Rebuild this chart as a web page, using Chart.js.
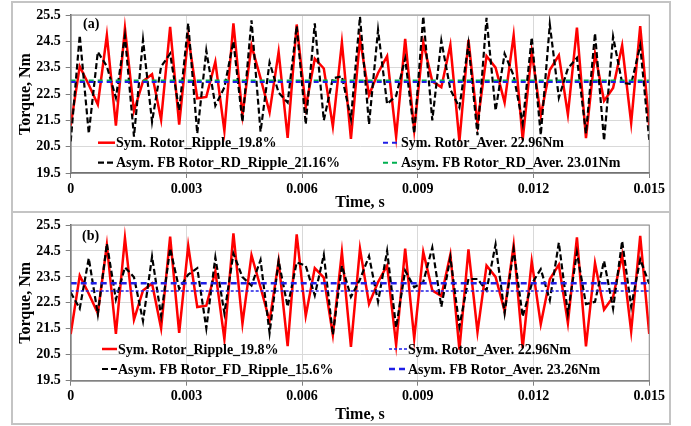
<!DOCTYPE html>
<html>
<head>
<meta charset="utf-8">
<script src="https://cdn.jsdelivr.net/npm/chart.js@4.4.1/dist/chart.umd.min.js"></script>
<style>
  body { margin: 0; background: #fff; }
  .panel { position: absolute; left: 11px; border: 2px solid #c4c4c4; background: #fff; }
  canvas { display: block; }
</style>
</head>
<body>
<div class="panel" style="top:1px;"><canvas id="chartA" width="656" height="208"></canvas></div>
<div class="panel" style="top:211px;"><canvas id="chartB" width="656" height="210"></canvas></div>
<script>
// sampling step of the torque waveforms (65 samples over 0.015 s)
const tStep = 0.015 / 64;
const xTicks = [0, 0.003, 0.006, 0.009, 0.012, 0.015];
const yTicks = [19.5, 20.5, 21.5, 22.5, 23.5, 24.5, 25.5];

// Sym. rotor torque (same in both panels)
const symRotor = [21.3, 23.55, 22.85, 22.1, 24.73, 21.3, 25.0, 21.85, 22.98, 23.25,
  21.52, 25.05, 21.34, 24.7, 22.34, 22.39, 23.72, 21.1, 25.18, 21.7,
  24.34, 23.1, 21.8, 24.1, 20.83, 25.14, 22.0, 23.84, 23.47, 21.27,
  24.46, 20.8, 24.59, 22.46, 23.3, 23.94, 20.88, 24.59, 21.13, 24.46,
  22.98, 22.76, 24.36, 20.7, 24.56, 21.38, 23.94, 23.5, 22.18, 24.73,
  20.76, 24.1, 21.68, 23.41, 23.97, 21.72, 25.02, 20.82, 24.03, 22.24,
  22.73, 24.34, 21.4, 25.08, 21.3];

// Asym. FB rotor, RD (panel a)
const asymRD = [20.7, 24.73, 21.0, 24.1, 23.55, 22.36, 24.7, 20.88, 24.56, 21.44,
  23.54, 24.03, 21.87, 25.18, 21.0, 24.15, 22.06, 22.75, 24.5, 21.44,
  25.3, 21.07, 23.7, 22.55, 22.18, 25.08, 21.35, 25.18, 21.5, 23.1,
  23.17, 21.56, 25.43, 21.35, 24.93, 22.12, 22.43, 23.85, 21.0, 25.45,
  21.5, 24.52, 22.67, 21.99, 24.4, 20.94, 25.39, 21.87, 24.03, 23.2,
  21.38, 24.65, 20.94, 25.14, 22.36, 23.47, 23.87, 21.0, 24.81, 20.73,
  24.68, 22.92, 22.88, 24.34, 20.76];

// Asym. FB rotor, FD (panel b)
const asymFD = [22.9, 22.28, 24.22, 22.06, 24.78, 22.63, 23.87, 23.49, 21.8, 24.28,
  22.0, 24.6, 23.04, 23.59, 23.84, 21.52, 24.25, 22.1, 24.4, 23.49,
  23.17, 24.15, 21.34, 24.12, 22.35, 24.06, 23.93, 22.79, 24.35, 21.27,
  23.93, 22.73, 23.4, 24.3, 22.54, 24.5, 21.55, 23.74, 23.1, 23.3,
  24.63, 22.35, 24.25, 21.59, 23.42, 23.42, 22.98, 24.75, 22.1, 24.56,
  21.97, 23.23, 23.8, 22.6, 24.82, 22.1, 24.44, 22.45, 22.54, 24.12,
  22.28, 24.88, 22.35, 24.18, 23.23];

const symAverage = 22.96;
const rdAverage = 23.01;
const fdAverage = 23.26;

const serif = '"Liberation Serif", "Times New Roman", serif';

function toPoints(values) {
  return values.map((v, i) => ({ x: i * tStep, y: v }));
}
function flatLine(value) {
  return [{ x: xTicks[0], y: value }, { x: xTicks[xTicks.length - 1], y: value }];
}

const panelDecor = {
  id: 'panelDecor',
  afterDraw(chart, args, opts) {
    const ctx = chart.ctx;
    const a = chart.chartArea;
    ctx.save();
    ctx.strokeStyle = '#8c8c8c';
    ctx.lineWidth = 1;
    ctx.strokeRect(a.left, a.top, a.right - a.left, a.bottom - a.top);
    ctx.fillStyle = '#000';
    ctx.textBaseline = 'middle';
    ctx.font = 'bold 14px ' + serif;
    ctx.fillText(opts.letter, opts.letterX, opts.letterY);
    opts.legend.forEach(item => {
      const ds = chart.data.datasets[item.index];
      ctx.beginPath();
      ctx.strokeStyle = ds.borderColor;
      ctx.lineWidth = ds.borderWidth;
      ctx.setLineDash(ds.borderDash || []);
      ctx.moveTo(item.x, item.y);
      ctx.lineTo(item.x + item.len, item.y);
      ctx.stroke();
      ctx.setLineDash([]);
      ctx.fillText(ds.label, item.x + item.len + 1, item.y + 1);
    });
    ctx.restore();
  }
};

function createTorqueChart(ctx, datasets, layout) {
  new Chart(ctx, {
    type: 'line',
    data: { datasets: datasets },
    options: {
      responsive: false,
      animation: false,
      elements: { point: { radius: 0 }, line: { tension: 0 } },
      layout: { padding: { left: 0, right: 18.5, top: layout.top, bottom: 0 } },
      plugins: {
        legend: { display: false },
        tooltip: { enabled: false },
        panelDecor: layout.decor
      },
      scales: {
        x: {
          type: 'linear',
          min: xTicks[0],
          max: xTicks[xTicks.length - 1],
          afterFit: s => { s.height = layout.xHeight; },
          afterBuildTicks: s => { s.ticks = xTicks.map(v => ({ value: v })); },
          ticks: {
            color: '#000',
            padding: 4,
            font: { family: serif, size: 14, weight: 'bold', lineHeight: 1 },
            callback: v => (v === 0 ? '0' : Number(v).toFixed(3))
          },
          grid: { color: '#d9d9d9', tickLength: 5, tickColor: '#7f7f7f' },
          border: { color: '#595959', width: 1.5 },
          title: {
            display: true,
            text: 'Time, s',
            color: '#000',
            padding: { top: 0, bottom: 0 },
            font: { family: serif, size: 16, weight: 'bold', lineHeight: 1 }
          }
        },
        y: {
          min: yTicks[0],
          max: yTicks[yTicks.length - 1],
          afterFit: s => { s.width = 57.7; },
          afterBuildTicks: s => { s.ticks = yTicks.map(v => ({ value: v })); },
          ticks: {
            color: '#000',
            padding: 5,
            font: { family: serif, size: 14, weight: 'bold', lineHeight: 1 },
            callback: v => Number(v).toFixed(1)
          },
          grid: { color: '#d9d9d9', tickLength: 5, tickColor: '#7f7f7f' },
          border: { color: '#595959', width: 1.5 },
          title: {
            display: true,
            text: 'Torque, Nm',
            color: '#000',
            padding: { top: 5, bottom: 0 },
            font: { family: serif, size: 16, weight: 'bold', lineHeight: 1 }
          }
        }
      }
    },
    plugins: [panelDecor]
  });
}

createTorqueChart(document.getElementById('chartA'), [
  { label: 'Sym. Rotor_Aver. 22.96Nm', data: flatLine(symAverage), borderColor: '#1f1fe6', borderWidth: 2, borderDash: [5, 4] },
  { label: 'Asym. FB Rotor_RD_Aver. 23.01Nm', data: flatLine(rdAverage), borderColor: '#00b050', borderWidth: 2, borderDash: [5, 4] },
  { label: 'Asym. FB Rotor_RD_Ripple_21.16%', data: toPoints(asymRD), borderColor: '#000', borderWidth: 2.2, borderDash: [6, 3] },
  { label: 'Sym. Rotor_Ripple_19.8%', data: toPoints(symRotor), borderColor: '#ff0000', borderWidth: 2.5 }
], {
  top: 7,
  xHeight: 38,
  decor: {
    letter: '(a)', letterX: 70, letterY: 21,
    legend: [
      { index: 3, x: 85, y: 139.7, len: 17 },
      { index: 2, x: 85, y: 159.7, len: 17 },
      { index: 0, x: 370, y: 139.7, len: 17 },
      { index: 1, x: 370, y: 159.7, len: 17 }
    ]
  }
});

createTorqueChart(document.getElementById('chartB'), [
  { label: 'Sym. Rotor_Aver. 22.96Nm', data: flatLine(symAverage), borderColor: '#1f1fe6', borderWidth: 1.5, borderDash: [3, 2] },
  { label: 'Asym. FB Rotor_Aver. 23.26Nm', data: flatLine(fdAverage), borderColor: '#1f1fe6', borderWidth: 2.5, borderDash: [6, 4] },
  { label: 'Asym. FB Rotor_FD_Ripple_15.6%', data: toPoints(asymFD), borderColor: '#000', borderWidth: 2.2, borderDash: [6, 3] },
  { label: 'Sym. Rotor_Ripple_19.8%', data: toPoints(symRotor), borderColor: '#ff0000', borderWidth: 2.5 }
], {
  top: 8.7,
  xHeight: 42.3,
  decor: {
    letter: '(b)', letterX: 69, letterY: 23,
    legend: [
      { index: 3, x: 89, y: 136, len: 15 },
      { index: 2, x: 89, y: 156, len: 15 },
      { index: 0, x: 376, y: 136, len: 18 },
      { index: 1, x: 376, y: 156, len: 18 }
    ]
  }
});
</script>
</body>
</html>
